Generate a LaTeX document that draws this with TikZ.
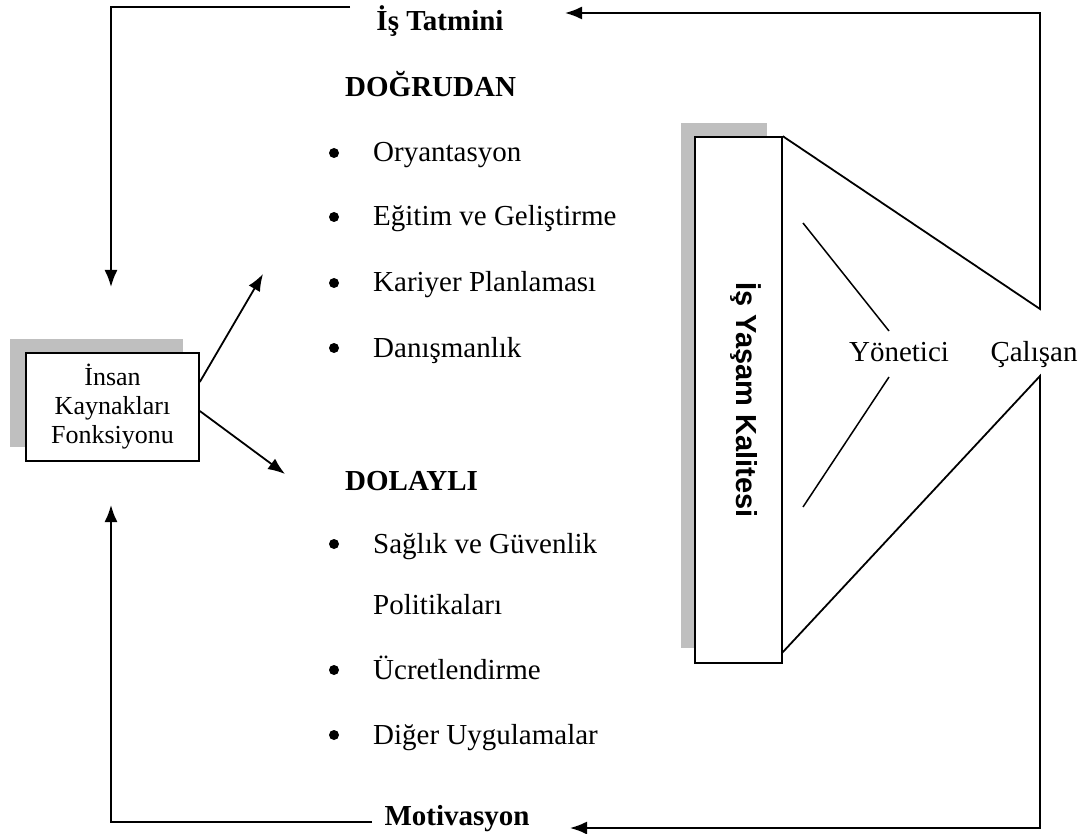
\documentclass[tikz,border=0pt]{standalone}
\usepackage{fontspec}
\setmainfont{Liberation Serif}
\newfontfamily\arialfont{Liberation Sans}
\usetikzlibrary{arrows.meta}

\tikzset{
  ln/.style={line width=1.5pt},
  arr/.style={line width=1.8pt,-{Latex[length=17pt,width=13pt]}},
  shadowfill/.style={fill=black!25},
  framebox/.style={draw,line width=1.6pt,fill=white,inner sep=0},
  heading/.style={anchor=base west,inner sep=0,font=\fontsize{29}{34}\selectfont\bfseries},
  listitem/.style={anchor=base west,inner sep=0,font=\fontsize{29}{34}\selectfont},
  bullet/.style={circle,fill,inner sep=0,minimum size=10pt}
}

\begin{document}
\begin{tikzpicture}[x=1pt,y=-1pt]
\useasboundingbox (0,0) rectangle (1087,834);

% insan kaynaklari fonksiyonu
\fill[shadowfill] (10,339) rectangle (183,447);
\node[framebox,align=center,minimum width=173pt,minimum height=108pt,
      font=\fontsize{26}{29}\selectfont] (ikf) at (112.5,407) {İnsan\\Kaynakları\\Fonksiyonu};

% is yasam kalitesi
\fill[shadowfill] (681,123) rectangle (767,648);
\node[framebox,minimum width=87pt,minimum height=526pt] (qol) at (738.5,400) {};
\node[rotate=-90,anchor=base,inner sep=0,font=\arialfont\bfseries\fontsize{29}{34}\selectfont] (qolt) at (736,400) {İş Yaşam Kalitesi};

% lists
\node[heading] (dog) at (345,97) {DOĞRUDAN};
\foreach \n/\y/\t in {o/162/Oryantasyon, e/226/Eğitim ve Geliştirme,
                      k/292/Kariyer Planlaması, d/357/Danışmanlık}{
  \node[bullet] (b\n) at (334,\y-9) {};
  \node[listitem] (i\n) at (373,\y) {\t};
}
\node[heading] (dol) at (345,490) {DOLAYLI};
\foreach \n/\y/\t in {s/553/Sağlık ve Güvenlik, u/679/Ücretlendirme,
                      g/744/Diğer Uygulamalar}{
  \node[bullet] (b\n) at (334,\y-9) {};
  \node[listitem] (i\n) at (373,\y) {\t};
}
\node[listitem] (ip) at (373,614) {Politikaları};

% feedback labels
\node[heading,anchor=base] (tat) at (440,31) {İş Tatmini};
\node[heading,anchor=base] (mot) at (457,825) {Motivasyon};
\node[listitem,anchor=base] (yon) at (899,361) {Yönetici};
\node[listitem,anchor=base] (cal) at (1034,361) {Çalışan};

% connectors
\coordinate (tatL) at (350,7);
\coordinate (cTL) at (111,7);
\coordinate (tipTL) at (111,287);
\draw[arr] (tatL) -- (cTL) -- (tipTL);

\coordinate (motL) at (372,822);
\coordinate (cBL) at (111,822);
\coordinate (tipBL) at (111,505);
\draw[arr] (motL) -- (cBL) -- (tipBL);

\coordinate (calT) at (1040,309);
\coordinate (cTR) at (1040,13);
\coordinate (tipTR) at (565,13);
\draw[arr] (qol.north east) -- (calT) -- (cTR) -- (tipTR);

\coordinate (qolB) at (782,653);
\coordinate (calB) at (1040,376);
\coordinate (cBR) at (1040,828);
\coordinate (tipBR) at (570,828);
\draw[arr] (qolB) -- (calB) -- (cBR) -- (tipBR);

\coordinate (yA) at (803,223);
\coordinate (yB) at (889,331);
\coordinate (yC) at (889,377);
\coordinate (yD) at (803,507);
\draw[ln] (yA) -- (yB);
\draw[ln] (yC) -- (yD);

\coordinate (tipU) at (263,274);
\coordinate (tipD) at (285,474);
\draw[arr] ([yshift=25pt]ikf.east) -- (tipU);
\draw[arr] ([yshift=-4pt]ikf.east) -- (tipD);
\end{tikzpicture}
\end{document}
